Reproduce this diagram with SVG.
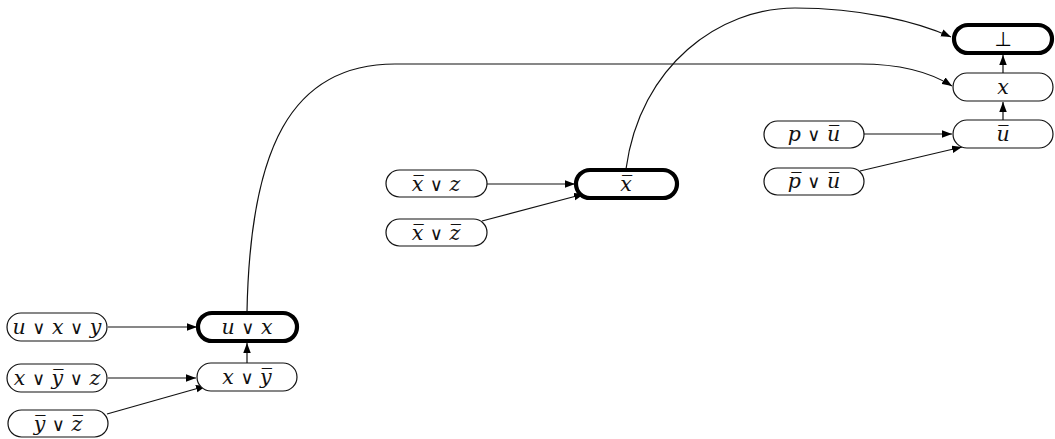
<svg xmlns="http://www.w3.org/2000/svg" width="1055" height="439" viewBox="0 0 1055 439">
  <style>
    .node rect { fill: #fff; stroke: #111; stroke-width: 1.2; }
    .node.goal rect { stroke: #000; stroke-width: 4.2; }
    .node text { font-family: "DejaVu Serif", "Liberation Serif", serif; font-style: italic; font-size: 20.5px; fill: #111; text-anchor: middle; }
    .op { font-style: normal; font-family: "DejaVu Sans", sans-serif; font-size: 18px; }
    .edges path { fill: none; stroke: #111; stroke-width: 1.2; marker-end: url(#head); }
  </style>
  <defs>
    <marker id="head" markerUnits="userSpaceOnUse" markerWidth="11" markerHeight="8" refX="10" refY="3.75" orient="auto">
      <path d="M0,0 L10,3.75 L0,7.5 z" fill="#000"/>
    </marker>
  </defs>

  <!-- connectors -->
  <g id="edges" class="edges">
    <path d="M108,327 L197,327"/>
    <path d="M108,378 L196,378"/>
    <path d="M107,414 L206,386"/>
    <path d="M247,363 L247,343"/>
    <path d="M247,312 C250,150 290,64 395,64 L860,64 C900,64 930,72 952,86"/>
    <path d="M486,184 L575,184"/>
    <path d="M482,221 L584,194"/>
    <path d="M626,169 C640,65 720,8 795,8 C862,8 918,22 951,37"/>
    <path d="M864,134 L952,134"/>
    <path d="M860,171 L962,147"/>
    <path d="M1003,120 L1003,102"/>
    <path d="M1003,73 L1003,55"/>
  </g>

  <!-- clauses (negated literals carry a combining overline) -->
  <g id="n-uxy" class="node">
    <rect x="7" y="313" width="100" height="28" rx="14"/>
    <text x="57" y="334">u <tspan class="op">∨</tspan> x <tspan class="op">∨</tspan> y</text>
  </g>
  <g id="n-xnyz" class="node">
    <rect x="7" y="364" width="100" height="28" rx="14"/>
    <text x="57" y="385">x <tspan class="op">∨</tspan> y̅ <tspan class="op">∨</tspan> z</text>
  </g>
  <g id="n-nynz" class="node">
    <rect x="8" y="410" width="100" height="27" rx="13.5"/>
    <text x="58" y="431">y̅ <tspan class="op">∨</tspan> z̅</text>
  </g>
  <g id="n-ux" class="node goal">
    <rect x="198" y="313" width="99" height="28" rx="14"/>
    <text x="247" y="334">u <tspan class="op">∨</tspan> x</text>
  </g>
  <g id="n-xny" class="node">
    <rect x="197" y="363" width="100" height="28" rx="14"/>
    <text x="247" y="384">x <tspan class="op">∨</tspan> y̅</text>
  </g>
  <g id="n-nxz" class="node">
    <rect x="386" y="170" width="101" height="27" rx="13.5"/>
    <text x="436" y="191">x̅ <tspan class="op">∨</tspan> z</text>
  </g>
  <g id="n-nxnz" class="node">
    <rect x="386" y="219" width="101" height="27" rx="13.5"/>
    <text x="436" y="240">x̅ <tspan class="op">∨</tspan> z̅</text>
  </g>
  <g id="n-nx" class="node goal">
    <rect x="576" y="170" width="101" height="28" rx="14"/>
    <text x="626" y="191">x̅</text>
  </g>
  <g id="n-pnu" class="node">
    <rect x="764" y="121" width="100" height="27" rx="13.5"/>
    <text x="814" y="141">p <tspan class="op">∨</tspan> u̅</text>
  </g>
  <g id="n-npnu" class="node">
    <rect x="764" y="168" width="100" height="27" rx="13.5"/>
    <text x="814" y="188">p̅ <tspan class="op">∨</tspan> u̅</text>
  </g>
  <g id="n-nu" class="node">
    <rect x="953" y="120" width="100" height="28" rx="14"/>
    <text x="1003" y="141">u̅</text>
  </g>
  <g id="n-x" class="node">
    <rect x="953" y="73" width="100" height="28" rx="14"/>
    <text x="1003" y="94">x</text>
  </g>
  <g id="n-bot" class="node goal">
    <rect x="954" y="25" width="98" height="28" rx="14"/>
    <text x="1003" y="46" style="font-style:normal;font-family:'DejaVu Sans',sans-serif;font-size:20px;fill:#000">⊥</text>
  </g>
</svg>
